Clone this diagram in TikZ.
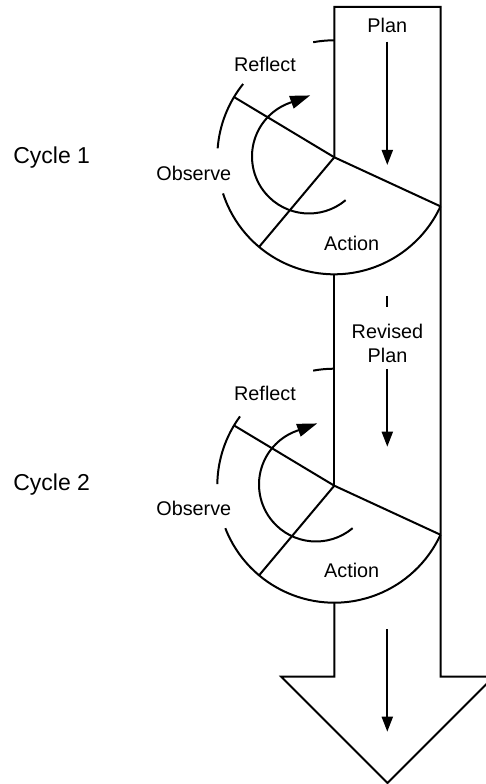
\documentclass[tikz,border=0pt]{standalone}
\usepackage{fontspec}
\setmainfont{Liberation Sans}
\usetikzlibrary{arrows.meta,calc}

\tikzset{
  outline/.style={line width=2pt, line join=miter},
  flow/.style={line width=2pt, -{Triangle[length=15pt,width=11pt]}},
  turn/.style={line width=2pt, -{Triangle[length=20pt,width=13pt]}},
  lbl/.style={anchor=base, inner sep=0pt, font=\fontsize{19.8}{22}\selectfont},
  cyc/.style={anchor=base, inner sep=0pt, font=\fontsize{23}{26}\selectfont},
}

\begin{document}
\begin{tikzpicture}[x=1pt, y=1pt]
  \useasboundingbox (0,0) rectangle (486,784);
  \clip (0,0) rectangle (486,784);

  % centres of the two cycle sectors and of the turning arrows
  \coordinate (C1) at (334.3,626.7);
  \coordinate (C2) at (334.3,298.3);
  \coordinate (I1) at (309,627.5);
  \coordinate (I2) at (316,299.5);

  % big downward arrow
  \coordinate (lt) at (334.3,777);
  \coordinate (rt) at (440.5,777);
  \coordinate (rb) at (440.5,107.3);
  \coordinate (hr) at (493.8,107.3);
  \coordinate (tip) at (387.5,1.0);
  \coordinate (hl) at (281.2,107.3);
  \coordinate (lb) at (334.3,107.3);
  \coordinate (b1) at (334.3,509.7);
  \coordinate (b2) at (334.3,181.3);

  \draw[outline] (C1) -- (lt) -- (rt) -- (rb) -- (hr) -- (tip) -- (hl) -- (lb) -- (b2);
  \draw[outline] (b1) -- (C2);

  % sectors: radial lines and broken outer arcs
  \foreach \c/\bs/\be/\as in {C1/141.2/175.6/198, C2/143.7/179.2/201.3}{
    \draw[outline] (\c) -- ($(\c)+(-24.8:117)$);
    \draw[outline] (\c) -- ($(\c)+(149:117)$);
    \draw[outline] (\c) -- ($(\c)+(230:117)$);
    \draw[outline] ($(\c)+(\as:117)$) arc[start angle=\as, end angle=335.2, radius=117];
    \draw[outline] ($(\c)+(\bs:117)$) arc[start angle=\bs, end angle=\be, radius=117];
    \draw[outline] ($(\c)+(90:117)$) arc[start angle=90, end angle=100.4, radius=117];
  }

  % turning arrows inside the cycles
  \foreach \i in {I1,I2}{
    \draw[turn] ($(\i)+(-50:57)$) arc[start angle=-50, end angle=-250, radius=57] -- ++(20:22);
  }

  % labels
  \node[lbl] (plan) at (387.3,751.5) {Plan};
  \node[lbl] (refl1) at (265,712.3) {Reflect};
  \node[lbl] (obs1) at (193.8,603) {Observe};
  \node[lbl] (act1) at (351.7,533.3) {Action};
  \node[lbl] (rev) at (387.5,445) {Revised};
  \node[lbl] (revplan) at (387.5,421.3) {Plan};
  \node[lbl] (refl2) at (265,383.3) {Reflect};
  \node[lbl] (obs2) at (193.8,268) {Observe};
  \node[lbl] (act2) at (351.7,206.3) {Action};
  \node[cyc] (cyc1) at (51.7,620) {Cycle 1};
  \node[cyc] (cyc2) at (51.7,293) {Cycle 2};

  % flow arrows inside the big arrow
  \coordinate (p1s) at (387.3,742.3);
  \coordinate (p1e) at (387.3,619);
  \coordinate (r0s) at (387.3,488);
  \coordinate (r0e) at (387.3,477);
  \coordinate (r1s) at (387.3,415);
  \coordinate (r1e) at (387.3,337.3);
  \coordinate (d1s) at (387.3,154.7);
  \coordinate (d1e) at (387.3,52.3);
  \draw[flow] (p1s) -- (p1e);
  \draw[line width=2pt] (r0s) -- (r0e);
  \draw[flow] (r1s) -- (r1e);
  \draw[flow] (d1s) -- (d1e);
\end{tikzpicture}
\end{document}
